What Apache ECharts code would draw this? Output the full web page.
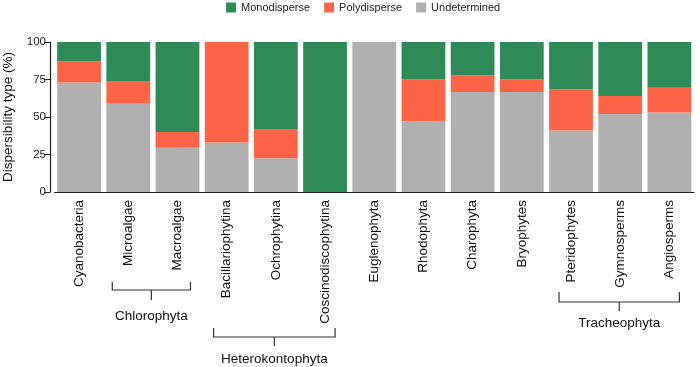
<!DOCTYPE html>
<html><head><meta charset="utf-8">
<script src="https://cdn.jsdelivr.net/npm/echarts@6/dist/echarts.min.js"></script>
<style>html,body{margin:0;padding:0;background:#fff}#c{width:700px;height:367px}</style>
</head><body><div id="c"></div>
<script>
var categories = ["Cyanobacteria","Microalgae","Macroalgae","Bacillariophytina","Ochrophytina","Coscinodiscophytina","Euglenophyta","Rhodophyta","Charophyta","Bryophytes","Pteridophytes","Gymnosperms","Angiosperms"];
var undetermined = [73, 59, 29.5, 33, 22.5, 0, 100, 47, 66.7, 66.7, 41, 52, 53];
var polydisperse = [14, 15, 10.5, 67, 19.5, 0, 0, 28, 11.1, 8.3, 27.5, 12, 16.5];
var monodisperse = [13, 26, 60, 0, 58, 100, 0, 25, 22.2, 25, 31.5, 36, 30.5];
var yTicks = [0, 25, 50, 75, 100];
var groups = [
  {name: "Chlorophyta", from: "Microalgae", to: "Macroalgae", level: 0},
  {name: "Heterokontophyta", from: "Bacillariophytina", to: "Coscinodiscophytina", level: 1},
  {name: "Tracheophyta", from: "Pteridophytes", to: "Angiosperms", level: 2}
];

var FONT = "'Liberation Sans', Arial, sans-serif";
var chart = echarts.init(document.getElementById('c'), null, {renderer: 'canvas'});
var barStyle = {barCategoryGap: '11%'};
chart.setOption({
  animation: false,
  textStyle: {fontFamily: FONT},
  legend: {
    data: ['Monodisperse', 'Polydisperse', 'Undetermined'],
    top: 2, left: 226, padding: 0, itemWidth: 10, itemHeight: 10, itemGap: 14,
    icon: 'rect',
    textStyle: {fontSize: 11, color: '#222', fontFamily: FONT}
  },
  grid: {left: 54.5, right: 6, top: 42, bottom: 175, containLabel: false, outerBoundsMode: 'none'},
  xAxis: {
    type: 'category', data: categories,
    axisLine: {lineStyle: {color: '#222', width: 1.2}},
    axisTick: {show: false},
    axisLabel: {rotate: 90, margin: 8, fontSize: 13.5, color: '#111', fontFamily: FONT, interval: 0}
  },
  yAxis: {
    type: 'value', min: 0, max: 100, interval: 25, offset: 4.5,
    name: 'Dispersibility type (%)', nameLocation: 'middle', nameGap: 35,
    nameTextStyle: {fontSize: 13.5, color: '#111', fontFamily: FONT},
    axisLine: {show: true, lineStyle: {color: '#222', width: 1.2}},
    axisTick: {show: true, length: 6, lineStyle: {color: '#222'}},
    splitLine: {show: false},
    axisLabel: {fontSize: 11.5, color: '#222', margin: 4, fontFamily: FONT,
      formatter: function(v){ return yTicks.indexOf(v) >= 0 ? String(v) : ''; }}
  },
  series: [
    Object.assign({name: 'Undetermined', type: 'bar', stack: 't', data: undetermined, itemStyle: {color: '#b0b0b0'}}, barStyle),
    Object.assign({name: 'Polydisperse', type: 'bar', stack: 't', data: polydisperse, itemStyle: {color: '#fd6346'}}, barStyle),
    Object.assign({name: 'Monodisperse', type: 'bar', stack: 't', data: monodisperse, itemStyle: {color: '#2e8b57'}}, barStyle)
  ]
});

// Group brackets below rotated labels
var levels = [
  {tickTop: 282, line: 290, stem: 300, text: 316, padL: 16, padR: 13},
  {tickTop: 328, line: 337, stem: 346, text: 359, padL: 13, padR: 10},
  {tickTop: 292, line: 302, stem: 311, text: 323, padL: 12, padR: 10}
];
var els = [];
groups.forEach(function(g){
  var lv = levels[g.level];
  var x1 = chart.convertToPixel({xAxisIndex: 0}, g.from) - lv.padL;
  var x2 = chart.convertToPixel({xAxisIndex: 0}, g.to) + lv.padR;
  var xm = (x1 + x2) / 2;
  var ls = {stroke: '#333', lineWidth: 1.2, fill: null};
  els.push({type: 'polyline', shape: {points: [[x1, lv.tickTop], [x1, lv.line], [x2, lv.line], [x2, lv.tickTop]]}, style: ls, silent: true});
  els.push({type: 'line', shape: {x1: xm, y1: lv.line, x2: xm, y2: lv.stem}, style: {stroke: '#333', lineWidth: 1.2}, silent: true});
  els.push({type: 'text', x: xm, y: lv.text, style: {text: g.name, fill: '#111', font: "13.5px " + FONT, align: 'center', verticalAlign: 'middle'}, silent: true});
});
chart.setOption({graphic: {elements: els}});
</script></body></html>
